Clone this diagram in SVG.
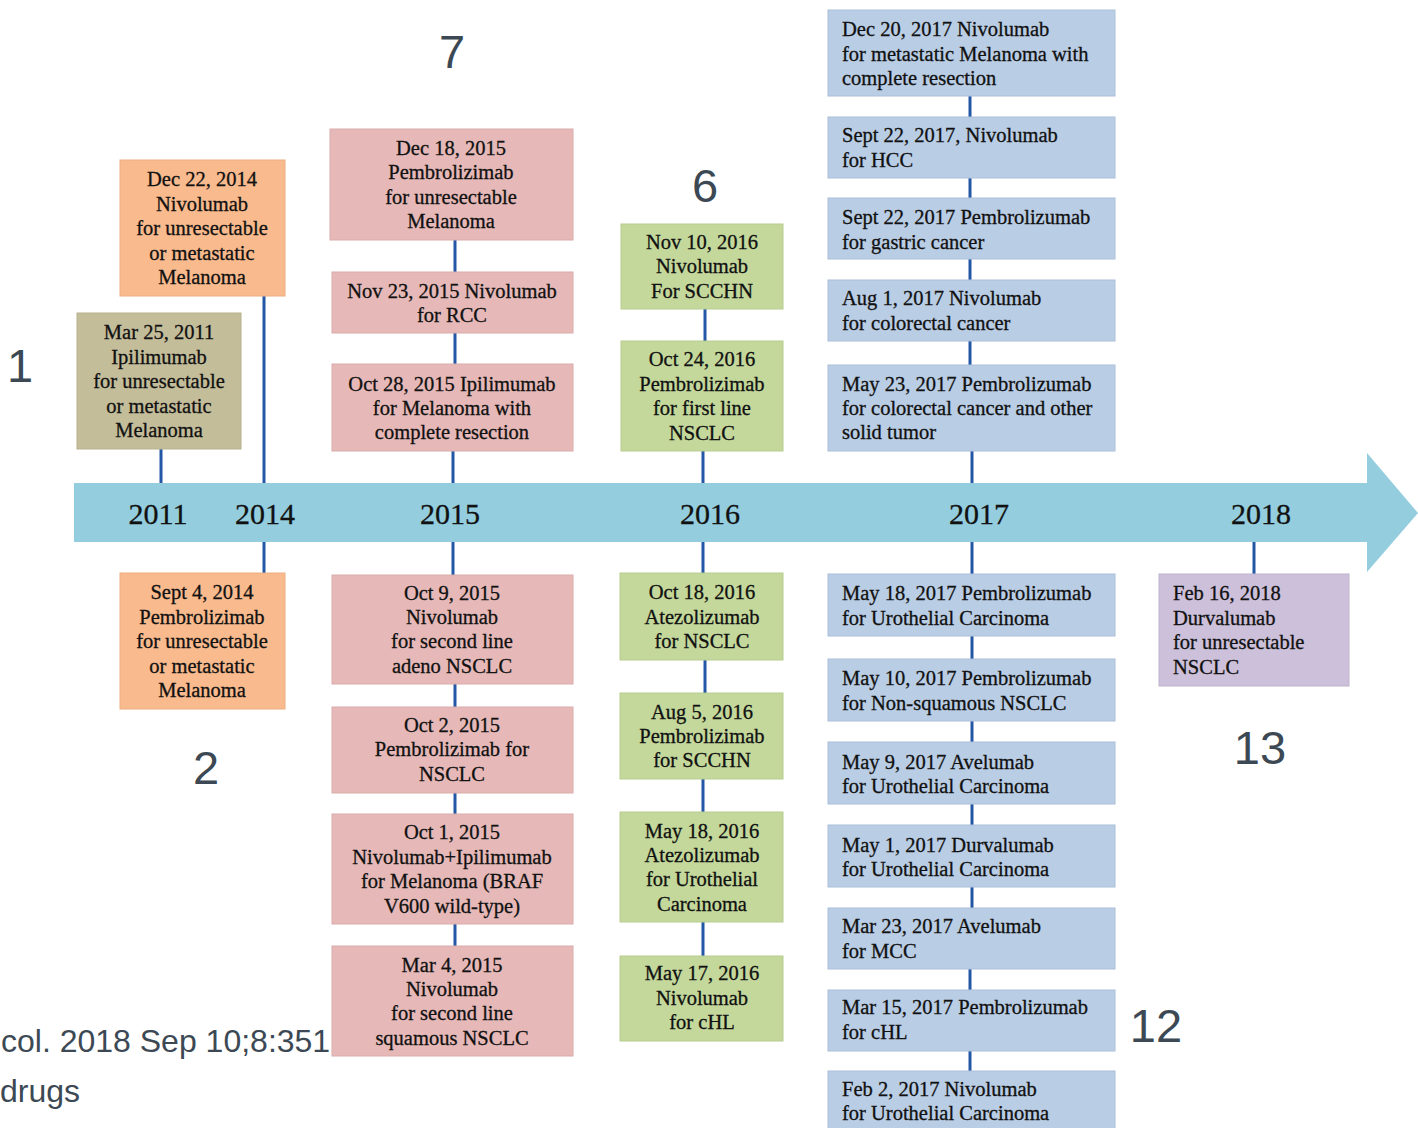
<svg xmlns="http://www.w3.org/2000/svg" width="1418" height="1128" viewBox="0 0 1418 1128">
<style>
.box{stroke-width:1}
.or{fill:#F9BA8D;stroke:#EFAE80}
.ol{fill:#C4BD9A;stroke:#B8B18E}
.pk{fill:#E6B9B8;stroke:#DAACAB}
.gr{fill:#C4D89B;stroke:#B8CC8F}
.bl{fill:#B9CDE5;stroke:#ABC0D9}
.pu{fill:#CCC0DA;stroke:#BFB3CE}
.t{font-family:"Liberation Serif","Times New Roman",serif;font-size:20.5px;fill:#111;stroke:#111;stroke-width:0.3}
.c{text-anchor:middle}
.yr{font-family:"Liberation Serif","Times New Roman",serif;font-size:30px;fill:#111;stroke:#111;stroke-width:0.3;text-anchor:middle}
.num{font-family:"Liberation Sans",Arial,sans-serif;font-size:47px;fill:#3C4954;text-anchor:middle}
.cap{font-family:"Liberation Sans",Arial,sans-serif;font-size:32px;fill:#3C4954}
.cn{stroke:#2257A6;stroke-width:3;fill:none}
</style>
<rect width="1418" height="1128" fill="#fff"/>

<g id="timeline">
<path d="M74,483 H1367 V453 L1418,513 L1367,572 V542 H74 Z" fill="#93CDDE"/>
<text class="yr" x="158" y="524">2011</text>
<text class="yr" x="265" y="524">2014</text>
<text class="yr" x="450" y="524">2015</text>
<text class="yr" x="710" y="524">2016</text>
<text class="yr" x="979" y="524">2017</text>
<text class="yr" x="1261" y="524">2018</text>
</g>

<g id="connectors">
<line class="cn" x1="161" y1="449" x2="161" y2="483"/>
<line class="cn" x1="264" y1="296" x2="264" y2="483"/>
<line class="cn" x1="455" y1="240" x2="455" y2="272"/>
<line class="cn" x1="455" y1="333" x2="455" y2="364"/>
<line class="cn" x1="453" y1="451" x2="453" y2="483"/>
<line class="cn" x1="705" y1="309" x2="705" y2="341"/>
<line class="cn" x1="703" y1="451" x2="703" y2="483"/>
<line class="cn" x1="970" y1="96" x2="970" y2="117"/>
<line class="cn" x1="970" y1="178" x2="970" y2="198"/>
<line class="cn" x1="970" y1="259" x2="970" y2="280"/>
<line class="cn" x1="970" y1="341" x2="970" y2="365"/>
<line class="cn" x1="972" y1="451" x2="972" y2="483"/>
<line class="cn" x1="264" y1="542" x2="264" y2="573"/>
<line class="cn" x1="453" y1="542" x2="453" y2="575"/>
<line class="cn" x1="455" y1="684" x2="455" y2="707"/>
<line class="cn" x1="455" y1="793" x2="455" y2="814"/>
<line class="cn" x1="455" y1="924" x2="455" y2="946"/>
<line class="cn" x1="703" y1="542" x2="703" y2="573"/>
<line class="cn" x1="705" y1="660" x2="705" y2="693"/>
<line class="cn" x1="703" y1="779" x2="703" y2="812"/>
<line class="cn" x1="703" y1="922" x2="703" y2="956"/>
<line class="cn" x1="972" y1="542" x2="972" y2="574"/>
<line class="cn" x1="972" y1="636" x2="972" y2="659"/>
<line class="cn" x1="972" y1="721" x2="972" y2="742"/>
<line class="cn" x1="972" y1="804" x2="972" y2="825"/>
<line class="cn" x1="972" y1="887" x2="972" y2="908"/>
<line class="cn" x1="970" y1="969" x2="970" y2="990"/>
<line class="cn" x1="970" y1="1051" x2="970" y2="1071"/>
<line class="cn" x1="1254" y1="542" x2="1254" y2="574"/>
</g>

<g id="n2011">
<rect class="box ol" x="77" y="313" width="164" height="136"/>
<text class="t c"><tspan x="159" y="339">Mar 25, 2011</tspan><tspan x="159" y="364">Ipilimumab</tspan><tspan x="159" y="388">for unresectable</tspan><tspan x="159" y="413">or metastatic</tspan><tspan x="159" y="437">Melanoma</tspan></text>
</g>
<g id="n2014a">
<rect class="box or" x="120" y="160" width="165" height="136"/>
<text class="t c"><tspan x="202" y="186">Dec 22, 2014</tspan><tspan x="202" y="211">Nivolumab</tspan><tspan x="202" y="235">for unresectable</tspan><tspan x="202" y="260">or metastatic</tspan><tspan x="202" y="284">Melanoma</tspan></text>
</g>
<g id="n2014b">
<rect class="box or" x="120" y="573" width="165" height="136"/>
<text class="t c"><tspan x="202" y="599">Sept 4, 2014</tspan><tspan x="202" y="624">Pembrolizimab</tspan><tspan x="202" y="648">for unresectable</tspan><tspan x="202" y="673">or metastatic</tspan><tspan x="202" y="697">Melanoma</tspan></text>
</g>

<g id="n2015a">
<rect class="box pk" x="330" y="129" width="243" height="111"/>
<text class="t c"><tspan x="451" y="155">Dec 18, 2015</tspan><tspan x="451" y="179">Pembrolizimab</tspan><tspan x="451" y="204">for unresectable</tspan><tspan x="451" y="228">Melanoma</tspan></text>
</g>
<g id="n2015b">
<rect class="box pk" x="332" y="272" width="241" height="61"/>
<text class="t c"><tspan x="452" y="298">Nov 23, 2015 Nivolumab</tspan><tspan x="452" y="322">for RCC</tspan></text>
</g>
<g id="n2015c">
<rect class="box pk" x="332" y="364" width="241" height="87"/>
<text class="t c"><tspan x="452" y="391">Oct 28, 2015 Ipilimumab</tspan><tspan x="452" y="415">for  Melanoma with</tspan><tspan x="452" y="439">complete resection</tspan></text>
</g>
<g id="n2015d">
<rect class="box pk" x="332" y="575" width="241" height="109"/>
<text class="t c"><tspan x="452" y="600">Oct 9, 2015</tspan><tspan x="452" y="624">Nivolumab</tspan><tspan x="452" y="648">for second line</tspan><tspan x="452" y="673">adeno NSCLC</tspan></text>
</g>
<g id="n2015e">
<rect class="box pk" x="332" y="707" width="241" height="86"/>
<text class="t c"><tspan x="452" y="732">Oct 2, 2015</tspan><tspan x="452" y="756">Pembrolizimab  for</tspan><tspan x="452" y="781">NSCLC</tspan></text>
</g>
<g id="n2015f">
<rect class="box pk" x="332" y="814" width="241" height="110"/>
<text class="t c"><tspan x="452" y="839">Oct 1, 2015</tspan><tspan x="452" y="864">Nivolumab+Ipilimumab</tspan><tspan x="452" y="888">for Melanoma (BRAF</tspan><tspan x="452" y="913">V600 wild-type)</tspan></text>
</g>
<g id="n2015g">
<rect class="box pk" x="332" y="946" width="241" height="110"/>
<text class="t c"><tspan x="452" y="972">Mar 4, 2015</tspan><tspan x="452" y="996">Nivolumab</tspan><tspan x="452" y="1020">for second line</tspan><tspan x="452" y="1045">squamous NSCLC</tspan></text>
</g>

<g id="n2016a">
<rect class="box gr" x="621" y="224" width="162" height="85"/>
<text class="t c"><tspan x="702" y="249">Nov 10, 2016</tspan><tspan x="702" y="273">Nivolumab</tspan><tspan x="702" y="298">For SCCHN</tspan></text>
</g>
<g id="n2016b">
<rect class="box gr" x="621" y="341" width="162" height="110"/>
<text class="t c"><tspan x="702" y="366">Oct 24, 2016</tspan><tspan x="702" y="391">Pembrolizimab</tspan><tspan x="702" y="415">for first line</tspan><tspan x="702" y="440">NSCLC</tspan></text>
</g>
<g id="n2016c">
<rect class="box gr" x="620" y="573" width="163" height="87"/>
<text class="t c"><tspan x="702" y="599">Oct 18, 2016</tspan><tspan x="702" y="624">Atezolizumab</tspan><tspan x="702" y="648">for NSCLC</tspan></text>
</g>
<g id="n2016d">
<rect class="box gr" x="620" y="693" width="163" height="86"/>
<text class="t c"><tspan x="702" y="719">Aug 5, 2016</tspan><tspan x="702" y="743">Pembrolizimab</tspan><tspan x="702" y="767">for SCCHN</tspan></text>
</g>
<g id="n2016e">
<rect class="box gr" x="620" y="812" width="163" height="110"/>
<text class="t c"><tspan x="702" y="838">May 18, 2016</tspan><tspan x="702" y="862">Atezolizumab</tspan><tspan x="702" y="886">for Urothelial</tspan><tspan x="702" y="911">Carcinoma</tspan></text>
</g>
<g id="n2016f">
<rect class="box gr" x="620" y="956" width="163" height="85"/>
<text class="t c"><tspan x="702" y="980">May 17, 2016</tspan><tspan x="702" y="1005">Nivolumab</tspan><tspan x="702" y="1029">for cHL</tspan></text>
</g>

<g id="n2017a">
<rect class="box bl" x="828" y="10" width="287" height="86"/>
<text class="t"><tspan x="842" y="36">Dec 20, 2017 Nivolumab</tspan><tspan x="842" y="61">for metastatic Melanoma with</tspan><tspan x="842" y="85">complete resection</tspan></text>
</g>
<g id="n2017b">
<rect class="box bl" x="828" y="117" width="287" height="61"/>
<text class="t"><tspan x="842" y="142">Sept 22, 2017, Nivolumab</tspan><tspan x="842" y="167">for HCC</tspan></text>
</g>
<g id="n2017c">
<rect class="box bl" x="828" y="198" width="287" height="61"/>
<text class="t"><tspan x="842" y="224">Sept 22, 2017 Pembrolizumab</tspan><tspan x="842" y="249">for gastric cancer</tspan></text>
</g>
<g id="n2017d">
<rect class="box bl" x="828" y="280" width="287" height="61"/>
<text class="t"><tspan x="842" y="305">Aug 1, 2017 Nivolumab</tspan><tspan x="842" y="330">for colorectal cancer</tspan></text>
</g>
<g id="n2017e">
<rect class="box bl" x="828" y="365" width="287" height="86"/>
<text class="t"><tspan x="842" y="391">May 23, 2017 Pembrolizumab</tspan><tspan x="842" y="415">for colorectal cancer and other</tspan><tspan x="842" y="439">solid tumor</tspan></text>
</g>
<g id="n2017f">
<rect class="box bl" x="828" y="574" width="287" height="62"/>
<text class="t"><tspan x="842" y="600">May 18, 2017 Pembrolizumab</tspan><tspan x="842" y="625">for Urothelial Carcinoma</tspan></text>
</g>
<g id="n2017g">
<rect class="box bl" x="828" y="659" width="287" height="62"/>
<text class="t"><tspan x="842" y="685">May 10, 2017 Pembrolizumab</tspan><tspan x="842" y="710">for Non-squamous NSCLC</tspan></text>
</g>
<g id="n2017h">
<rect class="box bl" x="828" y="742" width="287" height="62"/>
<text class="t"><tspan x="842" y="769">May 9, 2017 Avelumab</tspan><tspan x="842" y="793">for Urothelial Carcinoma</tspan></text>
</g>
<g id="n2017i">
<rect class="box bl" x="828" y="825" width="287" height="62"/>
<text class="t"><tspan x="842" y="852">May 1, 2017 Durvalumab</tspan><tspan x="842" y="876">for Urothelial Carcinoma</tspan></text>
</g>
<g id="n2017j">
<rect class="box bl" x="828" y="908" width="287" height="61"/>
<text class="t"><tspan x="842" y="933">Mar 23, 2017 Avelumab</tspan><tspan x="842" y="958">for MCC</tspan></text>
</g>
<g id="n2017k">
<rect class="box bl" x="828" y="990" width="287" height="61"/>
<text class="t"><tspan x="842" y="1014">Mar 15, 2017 Pembrolizumab</tspan><tspan x="842" y="1039">for cHL</tspan></text>
</g>
<g id="n2017l">
<rect class="box bl" x="828" y="1071" width="287" height="70"/>
<text class="t"><tspan x="842" y="1096">Feb 2, 2017 Nivolumab</tspan><tspan x="842" y="1120">for Urothelial Carcinoma</tspan></text>
</g>

<g id="n2018">
<rect class="box pu" x="1159" y="574" width="190" height="112"/>
<text class="t"><tspan x="1173" y="600">Feb 16, 2018</tspan><tspan x="1173" y="625">Durvalumab</tspan><tspan x="1173" y="649">for unresectable</tspan><tspan x="1173" y="674">NSCLC</tspan></text>
</g>

<g id="labels">
<text class="num" x="452" y="68">7</text>
<text class="num" x="705" y="202">6</text>
<text class="num" x="20" y="382">1</text>
<text class="num" x="206" y="784">2</text>
<text class="num" x="1260" y="764">13</text>
<text class="num" x="1156" y="1042">12</text>
<text class="cap" x="1" y="1052">col. 2018 Sep 10;8:351</text>
<text class="cap" x="0" y="1102">drugs</text>
</g>
</svg>
